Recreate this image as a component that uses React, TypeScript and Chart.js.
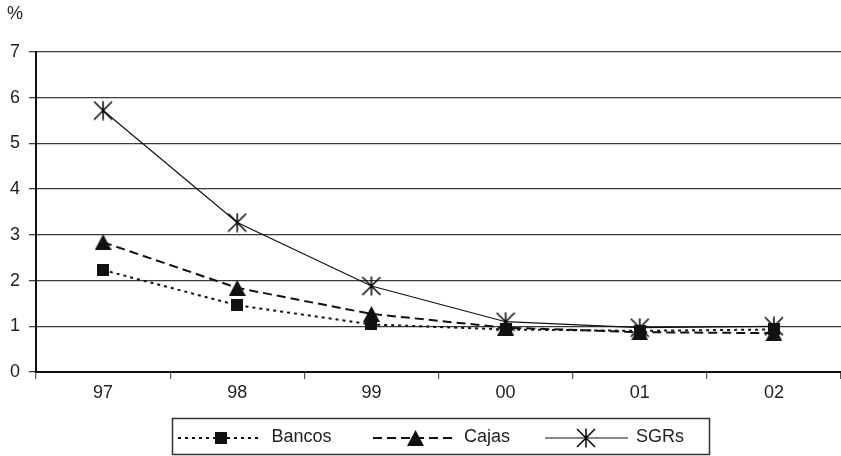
import React, { useEffect, useRef } from "react";
import { Chart, registerables } from "chart.js";

Chart.register(...registerables);

const categories = ["97", "98", "99", "00", "01", "02"];
const bancos = [2.23, 1.46, 1.04, 0.93, 0.9, 0.93];
const cajas = [2.84, 1.84, 1.27, 0.97, 0.87, 0.85];
const sgrs = [5.72, 3.27, 1.88, 1.1, 0.97, 1.0];
const seriesNames = ["Bancos", "Cajas", "SGRs"];
const yMin = 0;
const yMax = 7;
const yStep = 1;
const unitLabel = "%";

const FONT = "'Liberation Sans', Arial, sans-serif";
const CANVAS_W = 849;

function makeMarker(kind: string): HTMLCanvasElement {
  const c = document.createElement("canvas");
  const ctx = c.getContext("2d")!;
  if (kind === "square") {
    c.width = 12;
    c.height = 12;
    ctx.fillStyle = "#111";
    ctx.fillRect(0, 0, 12, 12);
  } else if (kind === "triangle") {
    c.width = 17;
    c.height = 16;
    ctx.fillStyle = "#111";
    ctx.beginPath();
    ctx.moveTo(8.5, 0);
    ctx.lineTo(17, 16);
    ctx.lineTo(0, 16);
    ctx.closePath();
    ctx.fill();
  } else {
    c.width = 20;
    c.height = 20;
    ctx.strokeStyle = "#000";
    ctx.lineWidth = 1.5;
    ctx.beginPath();
    ctx.moveTo(10, 0.5);
    ctx.lineTo(10, 19.5);
    ctx.moveTo(1, 1);
    ctx.lineTo(19, 19);
    ctx.moveTo(19, 1);
    ctx.lineTo(1, 19);
    ctx.stroke();
  }
  return c;
}

export default function App() {
  const ref = useRef<HTMLCanvasElement | null>(null);

  useEffect(() => {
    if (!ref.current) return;
    const mSquare = makeMarker("square");
    const mTri = makeMarker("triangle");
    const mStar = makeMarker("star");

    const styles = [
      { dash: [3, 4], width: 2, marker: mSquare },
      { dash: [9, 5], width: 2, marker: mTri },
      { dash: [] as number[], width: 1.2, marker: mStar },
    ];
    const legendItems = [
      { x0: 178, x1: 260, mx: 220.5, tx: 271.5 },
      { x0: 373, x1: 453, mx: 415, tx: 464 },
      { x0: 545, x1: 628, mx: 586, tx: 636 },
    ];

    const customLegend = {
      id: "customLegend",
      afterDraw(chart: any) {
        const ctx = chart.ctx as CanvasRenderingContext2D;
        ctx.save();
        ctx.fillStyle = "#222";
        ctx.font = `18px ${FONT}`;
        ctx.textAlign = "left";
        ctx.textBaseline = "alphabetic";
        ctx.fillText(unitLabel, 7, 19);
        ctx.strokeStyle = "#333";
        ctx.lineWidth = 1.5;
        ctx.setLineDash([]);
        ctx.strokeRect(172.5, 418.5, 537, 36);
        const ly = 438;
        legendItems.forEach((it, i) => {
          const st = styles[i];
          ctx.strokeStyle = "#111";
          ctx.lineWidth = st.width;
          ctx.setLineDash(st.dash);
          ctx.beginPath();
          ctx.moveTo(it.x0, ly);
          ctx.lineTo(it.x1, ly);
          ctx.stroke();
          ctx.setLineDash([]);
          const m = st.marker;
          ctx.drawImage(m, Math.round(it.mx - m.width / 2), Math.round(ly - m.height / 2));
          ctx.fillStyle = "#222";
          ctx.font = `18px ${FONT}`;
          ctx.fillText(seriesNames[i], it.tx, 441.5);
        });
        ctx.restore();
      },
    };

    const seriesData = [bancos, cajas, sgrs];
    const chart = new Chart(ref.current, {
      type: "line",
      data: {
        labels: categories,
        datasets: seriesData.map((d, i) => ({
          label: seriesNames[i],
          data: d,
          borderColor: "#111",
          backgroundColor: "#111",
          borderWidth: styles[i].width,
          borderDash: styles[i].dash,
          pointStyle: styles[i].marker as any,
          pointRadius: 6,
          pointHoverRadius: 6,
          fill: false,
          tension: 0,
        })),
      },
      options: {
        responsive: false,
        animation: false,
        events: [],
        layout: { padding: { top: 52, bottom: 54, left: 0, right: 0 } },
        plugins: {
          legend: { display: false },
          tooltip: { enabled: false },
          title: { display: false },
        },
        scales: {
          x: {
            offset: true,
            grid: {
              offset: true,
              drawOnChartArea: false,
              drawTicks: true,
              tickLength: 7,
              color: "#555",
              lineWidth: 1.2,
            },
            border: { display: true, color: "#111", width: 2 },
            ticks: {
              color: "#222",
              font: { family: FONT, size: 18 },
              padding: 3,
              maxRotation: 0,
            },
            afterFit(scale: any) {
              scale.height = 30;
              scale.paddingLeft = 0;
              scale.paddingRight = 0;
            },
          },
          y: {
            min: yMin,
            max: yMax,
            ticks: {
              stepSize: yStep,
              color: "#222",
              font: { family: FONT, size: 18 },
              padding: 9,
            },
            grid: {
              color: "#3a3a3a",
              lineWidth: 1.3,
              tickLength: 7,
              drawTicks: true,
            },
            border: { display: true, color: "#111", width: 2 },
            afterFit(scale: any) {
              scale.width = 36;
            },
          },
        },
      },
      plugins: [customLegend],
    });
    return () => chart.destroy();
  }, []);

  return (
    <div
      style={{
        position: "absolute",
        left: 0,
        top: 0,
        width: 841,
        height: 456,
        overflow: "hidden",
        background: "#fff",
      }}
    >
      <canvas
        ref={ref}
        width={CANVAS_W}
        height={456}
        style={{ width: CANVAS_W, height: 456, display: "block" }}
      />
    </div>
  );
}
